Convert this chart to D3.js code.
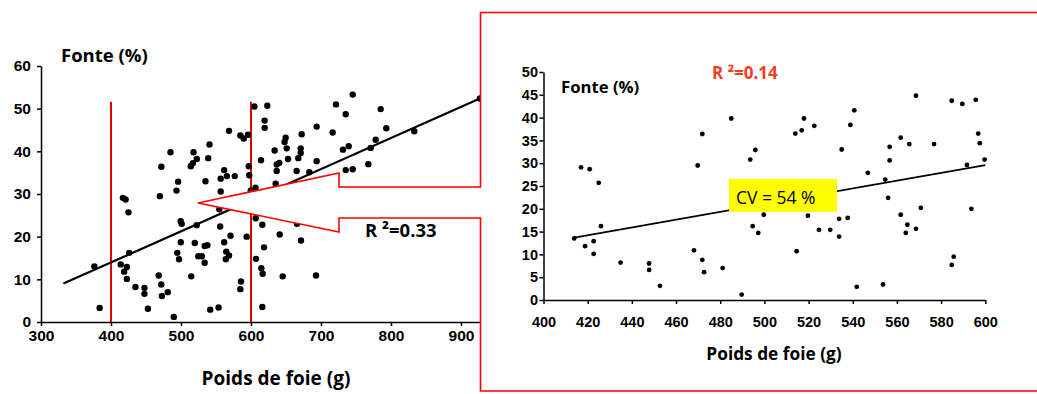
<!DOCTYPE html>
<html>
<head>
<meta charset="utf-8">
<script src="https://cdn.jsdelivr.net/npm/d3@7"></script>
<style>
  body { margin: 0; background: #fff; }
  svg { display: block; font-family: "Open Sans", Lato, sans-serif; }
  .axis path, .axis line { stroke: #000; stroke-width: 1.5; }
  .axis text { fill: #000; font-weight: 700; }
</style>
</head>
<body>
<svg id="chart" width="1037" height="394"></svg>
<script>
// points between 400 and 600 g: drawn in both panels
const zoomPoints = [
  [417.0, 29.1], [420.9, 28.7], [425.0, 25.7], [469.8, 29.5], [471.9, 36.4],
  [485.0, 39.8], [493.6, 30.8], [495.9, 32.9], [514.0, 36.5], [516.9, 37.2],
  [517.9, 39.8], [522.6, 38.2], [535.0, 33.0], [538.9, 38.4], [540.7, 41.6],
  [546.8, 27.9], [554.7, 26.4], [556.0, 22.4], [556.7, 30.6], [556.7, 33.6],
  [561.7, 35.6], [565.6, 34.2], [568.6, 44.8], [576.8, 34.2], [584.8, 43.7],
  [589.6, 43.0], [595.7, 43.9], [596.8, 36.5], [597.5, 34.4], [599.7, 30.8],
  [591.7, 29.6], [499.7, 18.7], [519.7, 18.5], [533.8, 17.8], [537.7, 18.0],
  [561.7, 18.7], [570.8, 20.2], [593.7, 20.0], [413.9, 13.5], [418.8, 11.8],
  [422.7, 12.9], [422.7, 10.1], [426.0, 16.2], [434.9, 8.2], [447.8, 8.0],
  [447.8, 6.6], [452.7, 3.1], [468.1, 10.9], [471.9, 8.8], [472.7, 6.1],
  [481.1, 7.0], [489.7, 1.2], [494.7, 16.2], [497.2, 14.7], [514.6, 10.7],
  [524.7, 15.4], [529.8, 15.4], [533.8, 13.9], [541.8, 2.9], [553.7, 3.4],
  [564.7, 16.5], [564.0, 14.7], [568.6, 15.6], [584.8, 7.7], [585.7, 9.5],
  [499.5, 23.6], [501.0, 23.0], [522.4, 22.7]
];

// points outside 400-600 g: left panel only
const otherPoints = [
  [383.8, 3.3], [376.2, 13.0],
  [604.8, 50.5], [606.5, 31.5], [606.7, 24.3], [607.1, 14.8],
  [623.3, 50.7], [619.5, 47.2], [619.5, 45.5], [614.3, 37.9], [633.8, 40.2],
  [636.7, 36.9], [640.4, 37.3], [636.7, 35.4], [649.5, 43.2], [648.0, 42.2],
  [651.0, 40.7], [652.9, 38.2], [665.2, 35.4], [672.4, 44.0], [671.0, 40.7],
  [671.0, 39.6], [667.6, 38.4], [683.3, 35.1], [693.8, 45.8], [693.8, 37.7],
  [716.7, 44.4], [721.4, 51.0], [735.3, 48.7], [745.3, 53.3], [731.4, 40.4],
  [739.6, 41.2], [735.3, 35.6], [745.3, 35.8], [767.6, 37.0], [771.0, 40.8],
  [778.1, 42.7], [785.3, 49.9], [793.3, 45.4], [833.3, 44.7], [927.0, 52.4],
  [635.2, 32.4], [616.2, 22.8], [665.7, 23.0], [641.0, 20.5], [671.4, 19.1],
  [618.6, 17.5], [614.8, 12.6], [616.7, 11.3], [645.3, 10.7], [692.9, 10.9],
  [616.2, 3.5]
];

const leftTrend = [[332, 9.0], [928.6, 52.5]];
const rightTrend = [[414, 13.7], [600, 29.6]];
const markerX = [400, 600];
const markerTop = 51.6;

const leftXTicks = [300, 400, 500, 600, 700, 800, 900];
const leftYTicks = [0, 10, 20, 30, 40, 50, 60];
const rightXTicks = [400, 420, 440, 460, 480, 500, 520, 540, 560, 580, 600];
const rightYTicks = [0, 5, 10, 15, 20, 25, 30, 35, 40, 45, 50];

const svg = d3.select("#chart");
const line = (x, y) => d3.line().x(d => x(d[0])).y(d => y(d[1]));

// ---- left panel ----
const xL = d3.scaleLinear().domain([300, 928.6]).range([41, 481]);
const yL = d3.scaleLinear().domain([0, 60]).range([322, 66]);

const left = svg.append("g");

left.append("g")
  .attr("class", "axis")
  .attr("transform", `translate(0,${yL(0)})`)
  .call(d3.axisBottom(xL).tickValues(leftXTicks).tickSize(4).tickPadding(4).tickSizeOuter(0))
  .call(g => g.selectAll("text").attr("font-size", 15.5));

left.append("g")
  .attr("class", "axis")
  .attr("transform", `translate(${xL(300)},0)`)
  .call(d3.axisLeft(yL).tickValues(leftYTicks).tickSize(4).tickPadding(6).tickSizeOuter(0))
  .call(g => g.selectAll("text").attr("font-size", 15.5));

left.selectAll("line.marker")
  .data(markerX)
  .join("line")
  .attr("class", "marker")
  .attr("x1", d => xL(d)).attr("x2", d => xL(d))
  .attr("y1", yL(markerTop)).attr("y2", yL(0))
  .attr("stroke", "#e00000")
  .attr("stroke-width", 2);

left.append("path")
  .attr("d", line(xL, yL)(leftTrend))
  .attr("fill", "none")
  .attr("stroke", "#000")
  .attr("stroke-width", 2.2);

left.selectAll("circle")
  .data(zoomPoints.concat(otherPoints))
  .join("circle")
  .attr("cx", d => xL(d[0]))
  .attr("cy", d => yL(d[1]))
  .attr("r", 3.2)
  .attr("fill", "#000");

left.append("text")
  .attr("x", 61).attr("y", 62)
  .attr("font-size", 18.5).attr("font-weight", 700)
  .text("Fonte (%)");

left.append("text")
  .attr("x", 276).attr("y", 385)
  .attr("text-anchor", "middle")
  .attr("font-size", 19).attr("font-weight", 700)
  .text("Poids de foie (g)");

// arrow + zoom frame (white filled, drawn over the left panel)
svg.append("path")
  .attr("d", "M1045,12.5 H480.5 V187 H339 V173 L198,203 L339,232 V218 H480.5 V391 H1045")
  .attr("fill", "#fff")
  .attr("stroke", "#ff0000")
  .attr("stroke-width", 1.6);

svg.append("text")
  .attr("x", 365).attr("y", 237)
  .attr("font-size", 18.5).attr("font-weight", 700)
  .text("R ²=0.33");

// ---- right panel ----
const xR = d3.scaleLinear().domain([400, 600]).range([543.5, 985.3]);
const yR = d3.scaleLinear().domain([0, 50]).range([300, 72]);

const right = svg.append("g");

right.append("g")
  .attr("class", "axis")
  .attr("transform", `translate(0,${yR(0)})`)
  .call(d3.axisBottom(xR).tickValues(rightXTicks).tickSize(4).tickPadding(13).tickSizeOuter(0))
  .call(g => g.selectAll("text").attr("font-size", 14.5));

right.append("g")
  .attr("class", "axis")
  .attr("transform", `translate(${xR(400)},0)`)
  .call(d3.axisLeft(yR).tickValues(rightYTicks).tickSize(4).tickPadding(1.5).tickSizeOuter(0))
  .call(g => g.selectAll("text").attr("font-size", 14.5));

right.append("path")
  .attr("d", line(xR, yR)(rightTrend))
  .attr("fill", "none")
  .attr("stroke", "#000")
  .attr("stroke-width", 1.8);

right.selectAll("circle")
  .data(zoomPoints)
  .join("circle")
  .attr("cx", d => xR(d[0]))
  .attr("cy", d => yR(d[1]))
  .attr("r", 2.4)
  .attr("fill", "#000");

right.append("rect")
  .attr("x", 729).attr("y", 179)
  .attr("width", 108).attr("height", 33)
  .attr("fill", "#ffff00");

right.append("text")
  .attr("x", 736).attr("y", 204)
  .attr("font-size", 17.5)
  .text("CV = 54 %");

right.append("text")
  .attr("x", 561).attr("y", 93)
  .attr("font-size", 16.7).attr("font-weight", 700)
  .text("Fonte (%)");

right.append("text")
  .attr("x", 712).attr("y", 79)
  .attr("font-size", 17).attr("font-weight", 700)
  .attr("fill", "#ff3b1f")
  .text("R ²=0.14");

right.append("text")
  .attr("x", 774).attr("y", 360)
  .attr("text-anchor", "middle")
  .attr("font-size", 17.3).attr("font-weight", 700)
  .text("Poids de foie (g)");
</script>
</body>
</html>
